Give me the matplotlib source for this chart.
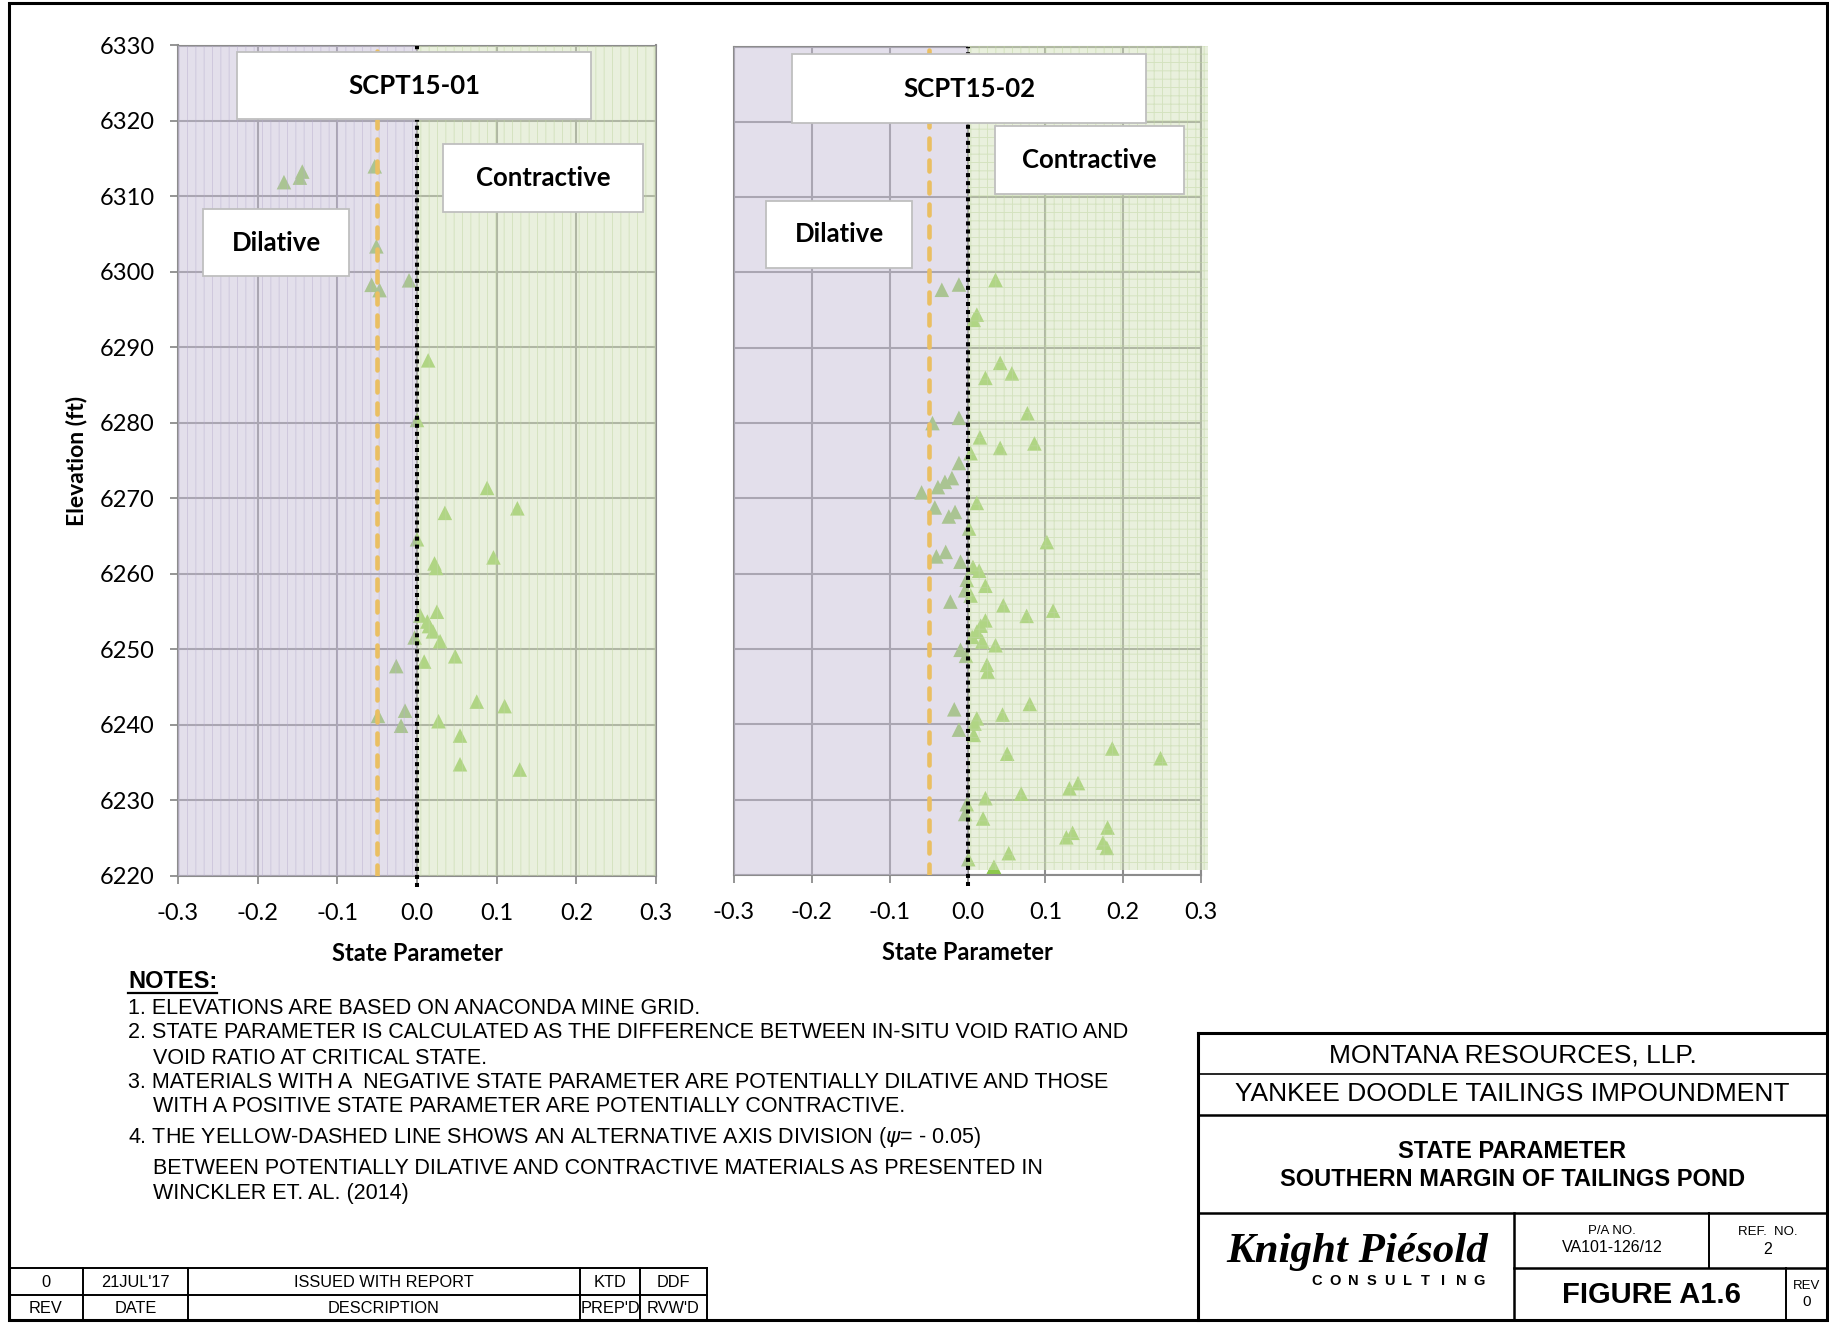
import matplotlib
matplotlib.use("Agg")
import matplotlib.pyplot as plt
from matplotlib.patches import Rectangle

# State parameter readings (psi) against elevation (ft) for the two soundings
sp01_psi = [-0.167, -0.147, -0.144, -0.053, -0.051, -0.010, -0.057, -0.047, 0.014, 0.000,
            0.088, 0.035, 0.126, 0.000, 0.096, 0.022, 0.024, 0.025, 0.004, 0.013,
            0.015, 0.020, -0.003, 0.029, 0.048, 0.009, -0.026, 0.075, 0.110, -0.015,
            -0.049, 0.027, -0.020, 0.054, 0.054, 0.129]
sp01_elev = [6311.9, 6312.5, 6313.3, 6314.0, 6303.4, 6298.9, 6298.3, 6297.6, 6288.3, 6280.4,
             6271.4, 6268.1, 6268.7, 6264.6, 6262.2, 6261.4, 6260.8, 6255.0, 6254.5, 6253.7,
             6253.1, 6252.4, 6251.6, 6251.1, 6249.1, 6248.4, 6247.8, 6243.1, 6242.5, 6241.9,
             6241.2, 6240.5, 6239.9, 6238.6, 6234.8, 6234.1]

sp02_psi = [0.036, -0.011, -0.033, 0.012, 0.008, 0.042, 0.057, 0.023, 0.077, -0.011,
            -0.045, 0.016, 0.086, 0.042, 0.004, -0.011, -0.020, -0.029, -0.038, -0.059,
            0.012, -0.042, -0.016, -0.024, 0.002, 0.102, -0.028, -0.040, -0.009, 0.007,
            0.015, -0.001, 0.023, -0.003, 0.004, -0.022, 0.046, 0.110, 0.076, 0.023,
            0.017, 0.012, 0.006, 0.019, 0.036, -0.009, -0.002, 0.025, 0.026, 0.080,
            -0.017, 0.045, 0.012, 0.009, -0.011, 0.008, 0.186, 0.051, 0.248, 0.142,
            0.131, 0.069, 0.023, -0.001, -0.003, 0.020, 0.180, 0.135, 0.127, 0.174,
            0.179, 0.053, 0.001, 0.034, 0.029]
sp02_elev = [6299.0, 6298.4, 6297.7, 6294.4, 6293.7, 6288.0, 6286.6, 6286.0, 6281.3, 6280.7,
             6280.0, 6278.1, 6277.3, 6276.7, 6276.0, 6274.7, 6272.7, 6272.2, 6271.5, 6270.8,
             6269.4, 6268.8, 6268.2, 6267.6, 6266.0, 6264.2, 6262.9, 6262.3, 6261.6, 6260.9,
             6260.4, 6259.2, 6258.4, 6257.8, 6257.1, 6256.3, 6255.8, 6255.1, 6254.4, 6253.8,
             6253.1, 6252.3, 6251.6, 6251.0, 6250.5, 6249.9, 6249.1, 6247.9, 6247.0, 6242.7,
             6242.0, 6241.3, 6240.8, 6240.1, 6239.3, 6238.6, 6236.8, 6236.1, 6235.5, 6232.2,
             6231.5, 6230.8, 6230.2, 6229.4, 6228.1, 6227.5, 6226.3, 6225.6, 6225.0, 6224.3,
             6223.6, 6222.9, 6222.1, 6221.1, 6220.1]

soundings = ["SCPT15-01", "SCPT15-02"]
psi_alt = -0.05          # alternative dilative / contractive division
x_ticks = [-0.3, -0.2, -0.1, 0.0, 0.1, 0.2, 0.3]
elev_ticks = list(range(6220, 6331, 10))

notes = [
    "1. ELEVATIONS ARE BASED ON ANACONDA MINE GRID.",
    "2. STATE PARAMETER IS CALCULATED AS THE DIFFERENCE BETWEEN IN-SITU VOID RATIO AND",
    "    VOID RATIO AT CRITICAL STATE.",
    "3. MATERIALS WITH A  NEGATIVE STATE PARAMETER ARE POTENTIALLY DILATIVE AND THOSE",
    "    WITH A POSITIVE STATE PARAMETER ARE POTENTIALLY CONTRACTIVE.",
    r"4. THE YELLOW-DASHED LINE SHOWS AN ALTERNATIVE AXIS DIVISION ($\psi$= - 0.05)",
    "    BETWEEN POTENTIALLY DILATIVE AND CONTRACTIVE MATERIALS AS PRESENTED IN",
    "    WINCKLER ET. AL. (2014)",
]
rev_row = ["0", "21JUL'17", "ISSUED WITH REPORT", "KTD", "DDF"]
rev_head = ["REV", "DATE", "DESCRIPTION", "PREP'D", "RVW'D"]

plt.rcParams["font.family"] = ["Lato", "DejaVu Sans"]
plt.rcParams["hatch.linewidth"] = 0.7

W, H = 1829, 1323
fig = plt.figure(figsize=(W / 100, H / 100), dpi=100, facecolor="white")

# full-sheet axes in pixel units for the drawing frame, notes and title block
sheet = fig.add_axes([0, 0, 1, 1])
sheet.set_xlim(0, W)
sheet.set_ylim(H, 0)
sheet.axis("off")

PURPLE = (201 / 255, 193 / 255, 217 / 255, 0.5)
PURPLE_HATCH = (182 / 255, 172 / 255, 205 / 255, 0.45)
GREEN = (213 / 255, 227 / 255, 189 / 255, 0.5)
GREEN_HATCH = (192 / 255, 214 / 255, 163 / 255, 0.5)
GRID = "#8c8c8c"


def px_axes(left, top, right, bottom):
    return fig.add_axes([left / W, 1 - bottom / H, (right - left) / W, (bottom - top) / H])


ax1 = px_axes(178, 45.5, 656, 876)
ax2 = px_axes(734, 46.5, 1201, 875)

# label boxes in axes fractions: (x0, y0, x1, y1)
boxes = [
    {"title": (0.124, 0.911, 0.865, 0.9925),
     "contr": (0.554, 0.800, 0.973, 0.881),
     "dil": (0.053, 0.722, 0.358, 0.803)},
    {"title": (0.125, 0.908, 0.882, 0.9906),
     "contr": (0.559, 0.822, 0.964, 0.904),
     "dil": (0.068, 0.733, 0.382, 0.814)},
]

for i, (ax, psi, elev) in enumerate([(ax1, sp01_psi, sp01_elev), (ax2, sp02_psi, sp02_elev)]):
    ax.set_xlim(-0.3, 0.3)
    ax.set_ylim(6220, 6330)
    ax.set_xticks(x_ticks)
    ax.set_xticklabels([f"{t:.1f}" for t in x_ticks])
    ax.set_yticks(elev_ticks)
    ax.set_axisbelow(True)
    ax.grid(True, color=GRID, linewidth=1.5)
    ax.set_facecolor("white")
    for s in ax.spines.values():
        s.set_color(GRID)
        s.set_linewidth(1.5)
    ax.tick_params(direction="out", length=5.8, width=1.3, color=GRID,
                   labelsize=17, pad=11)
    ax.tick_params(axis="x", pad=13.5)

    ax.scatter(psi, elev, marker="^", s=110, color="#8cc84b", edgecolors="none", zorder=2)

    # dilative / contractive shading laid over the data
    if i == 0:
        ax.add_patch(Rectangle((-0.3, 6220), 0.3, 110, facecolor=PURPLE,
                               edgecolor=PURPLE_HATCH, hatch="||", linewidth=0, zorder=3))
        ax.add_patch(Rectangle((0, 6220), 0.3, 110, facecolor=GREEN,
                               edgecolor=GREEN_HATCH, hatch="||", linewidth=0, zorder=3))
    else:
        ax.add_patch(Rectangle((-0.3, 6220), 0.3, 110, facecolor=PURPLE,
                               linewidth=0, zorder=3))
        ax.add_patch(Rectangle((0, 6220.6), 0.309, 109.4, facecolor=GREEN,
                               edgecolor=GREEN_HATCH, hatch="++", linewidth=0,
                               zorder=3, clip_on=False))

    ax.axvline(psi_alt, color="#eabf62", linewidth=3.3, linestyle=(0, (2.4, 2.4)),
               dash_capstyle="round", zorder=4)
    ax.axvline(0, ymin=-0.013, color="black", linewidth=2.9, linestyle=(0, (1, 1)),
               zorder=4, clip_on=False)

    labels = {"title": soundings[i], "contr": "Contractive", "dil": "Dilative"}
    for key, (x0, y0, x1, y1) in boxes[i].items():
        ax.add_patch(Rectangle((x0, y0), x1 - x0, y1 - y0, transform=ax.transAxes,
                               facecolor="white", edgecolor="#bfbfbf", linewidth=1.3,
                               zorder=5, clip_on=False))
        ax.text((x0 + x1) / 2, (y0 + y1) / 2, labels[key], transform=ax.transAxes,
                ha="center", va="center", fontsize=18.5, fontweight="bold", zorder=6)

    ax.set_xlabel("State Parameter", fontsize=17, fontweight="bold", labelpad=13)

ax1.set_ylabel("Elevation (ft)", fontsize=16.5, fontweight="bold", labelpad=9)
ax2.tick_params(axis="y", left=False, labelleft=False)

# ---- drawing frame ----
sheet.add_patch(Rectangle((9, 3), 1818, 1317, fill=False, edgecolor="black", linewidth=2.2))

# ---- notes ----
ARIAL = ["Liberation Sans", "DejaVu Sans"]
nt = sheet.text(128, 982, "NOTES:", family=ARIAL, fontsize=17, fontweight="bold",
                va="center", ha="left")
fig.canvas.draw()
bb = nt.get_window_extent().transformed(sheet.transData.inverted())
sheet.plot([bb.x0, bb.x1], [bb.y0 - 1, bb.y0 - 1], color="black", linewidth=1.6)

note_y = [1008, 1033, 1058, 1082, 1106, 1137, 1168, 1193]
for y, line in zip(note_y, notes):
    if line.startswith("    "):
        sheet.text(153, y, line.strip(), family=ARIAL, fontsize=15.5, va="center", ha="left")
    else:
        sheet.text(128, y, line, family=ARIAL, fontsize=15.5, va="center", ha="left")

# ---- revision table ----
cols = [9, 83, 188, 580, 640, 707]
rows = [1268, 1295, 1320]
for y in rows[:2]:
    sheet.plot([cols[0], cols[-1]], [y, y], color="black", linewidth=1.4)
for x in cols[1:]:
    sheet.plot([x, x], [rows[0], rows[-1]], color="black", linewidth=1.4)
for j in range(5):
    cx = (cols[j] + cols[j + 1]) / 2
    sheet.text(cx, (rows[0] + rows[1]) / 2 + 1, rev_row[j], family=ARIAL, fontsize=11.8,
               ha="center", va="center")
    sheet.text(cx, (rows[1] + rows[2]) / 2 + 1, rev_head[j], family=ARIAL, fontsize=11.8,
               ha="center", va="center")

# ---- title block ----
tb_l, tb_r = 1198, 1827
sheet.plot([tb_l, tb_r], [1033, 1033], color="black", linewidth=2.2)
sheet.plot([tb_l, tb_l], [1033, 1320], color="black", linewidth=2.2)
sheet.plot([tb_l, tb_r], [1074, 1074], color="black", linewidth=1.2)
sheet.plot([tb_l, tb_r], [1115, 1115], color="black", linewidth=1.8)
sheet.plot([tb_l, tb_r], [1213, 1213], color="black", linewidth=1.8)
sheet.plot([1514, tb_r], [1268, 1268], color="black", linewidth=1.8)
sheet.plot([1514, 1514], [1213, 1320], color="black", linewidth=1.8)
sheet.plot([1709, 1709], [1213, 1268], color="black", linewidth=1.4)
sheet.plot([1786, 1786], [1268, 1320], color="black", linewidth=1.4)

mid = (tb_l + tb_r) / 2
sheet.text(mid, 1055, "MONTANA RESOURCES, LLP.", family=ARIAL, fontsize=19,
           ha="center", va="center")
sheet.text(mid, 1094, "YANKEE DOODLE TAILINGS IMPOUNDMENT", family=ARIAL, fontsize=19,
           ha="center", va="center")
sheet.text(mid, 1151, "STATE PARAMETER", family=ARIAL, fontsize=17, fontweight="bold",
           ha="center", va="center")
sheet.text(mid, 1179, "SOUTHERN MARGIN OF TAILINGS POND", family=ARIAL, fontsize=17,
           fontweight="bold", ha="center", va="center")

sheet.text(1357, 1252, "Knight Piésold", family=["Liberation Serif", "DejaVu Serif"],
           fontsize=31, fontweight="bold", style="italic", ha="center", va="center")
for k, ch in enumerate("CONSULTING"):
    sheet.text(1317 + k * 18.0, 1281, ch, family=ARIAL, fontsize=10.5, fontweight="bold",
               ha="center", va="center")

sheet.text(1612, 1231, "P/A NO.", family=ARIAL, fontsize=9.5, ha="center", va="center")
sheet.text(1612, 1248, "VA101-126/12", family=ARIAL, fontsize=11.5, ha="center", va="center")
sheet.text(1768, 1232, "REF.  NO.", family=ARIAL, fontsize=9.5, ha="center", va="center")
sheet.text(1768, 1250, "2", family=ARIAL, fontsize=11.5, ha="center", va="center")
sheet.text(1651, 1295, "FIGURE A1.6", family=ARIAL, fontsize=21, fontweight="bold",
           ha="center", va="center")
sheet.text(1807, 1286, "REV", family=ARIAL, fontsize=9.5, ha="center", va="center")
sheet.text(1807, 1302, "0", family=ARIAL, fontsize=11, ha="center", va="center")

fig.savefig("out.png", dpi=100, facecolor="white")
